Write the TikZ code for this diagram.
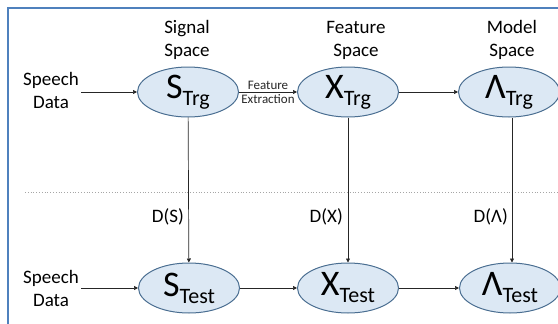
\documentclass[tikz,border=0pt]{standalone}
\usepackage{fontspec}
\setmainfont{Carlito}
\usetikzlibrary{shapes.geometric,arrows.meta}
\definecolor{frameblue}{HTML}{4F81BD}
\definecolor{ellfill}{HTML}{DCE8F4}
\definecolor{ellline}{HTML}{4A6E91}
\tikzset{
  space/.style={ellipse, draw=ellline, fill=ellfill, line width=1pt, minimum width=101pt, minimum height=50pt, inner sep=0pt},
  lbl/.style={font=\fontsize{19}{23}\selectfont, align=center, inner sep=0pt},
  small/.style={font=\fontsize{13}{14}\selectfont, inner sep=0pt},
  conn/.style={-{Triangle[length=4pt,width=4pt]}, line width=0.7pt, black!85},
}
\newcommand{\bigsym}[2]{{\fontsize{36}{36}\selectfont #1}{\fontsize{22}{22}\selectfont\raisebox{-7pt}{#2}}}
\begin{document}
\begin{tikzpicture}[x=1pt,y=-1pt]
\useasboundingbox (0,0) rectangle (558,324);
\clip (0,0) rectangle (558,324);
\draw[frameblue, line width=2.5pt] (8,8) rectangle (580,345);
% dotted separator
\draw[gray!70, dotted, line width=0.8pt] (25,192) -- (558,192);
% headers
\node[lbl] (hs) at (187,40) {Signal\\Space};
\node[lbl] (hf) at (356,40) {Feature\\Space};
\node[lbl] (hm) at (512,40) {Model\\Space};
% speech data
\node[lbl] (sd1) at (51,90) {Speech\\Data};
\node[lbl] (sd2) at (51,288) {Speech\\Data};
% ellipses
\node[space] (str) at (188,92) {\bigsym{S}{Trg}};
\node[space] (xtr) at (348,92) {\bigsym{X}{Trg}};
\node[space] (ltr) at (509,92) {\bigsym{Λ}{Trg}};
\node[space] (ste) at (189,288) {\bigsym{S}{Test}};
\node[space] (xte) at (348,288) {\bigsym{X}{Test}};
\node[space] (lte) at (510,288) {\bigsym{Λ}{Test}};
% horizontal arrows
\draw[conn] (sd1.east |- str.west) ++(2,0) coordinate (a1) -- (str.west);
\draw[conn] (str) -- node[small, above=2.5pt] (fe1) {Feature} node[small, below=2.5pt] (fe2) {Extraction} (xtr);
\draw[conn] (xtr) -- (ltr);
\draw[conn] (sd2.east |- ste.west) ++(2,0) coordinate (a2) -- (ste.west);
\draw[conn] (ste) -- (xte);
\draw[conn] (xte) -- (lte);
% vertical arrows
\draw[conn] (str) -- (ste);
\draw[conn] (xtr) -- (xte);
\draw[conn] (ltr.south -| 512,0) coordinate (lt) -- (lt |- lte.north);
% D labels
\node[lbl, anchor=east] (ds) at (184,217) {D(S)};
\node[lbl, anchor=east] (dx) at (343,217) {D(X)};
\node[lbl, anchor=east] (dl) at (508,217) {D(Λ)};
\end{tikzpicture}
\end{document}
